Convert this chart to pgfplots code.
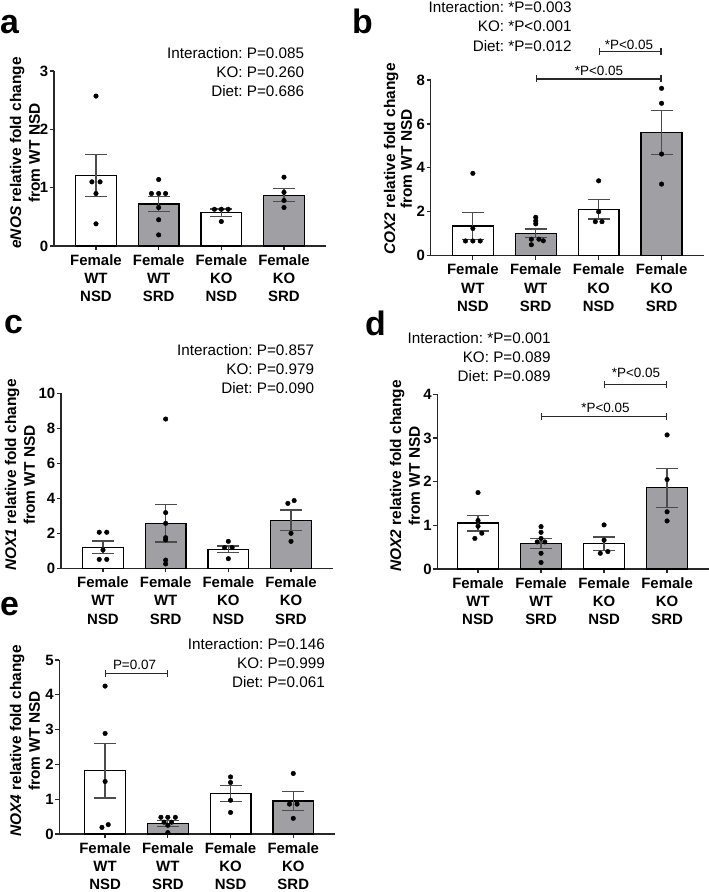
\documentclass[border=0pt]{standalone}
\usepackage{fontspec}
\setmainfont{Liberation Sans}
\usepackage{pgfplots}
\pgfplotsset{compat=1.18}
\usetikzlibrary{arrows.meta}
\definecolor{barg}{RGB}{160,160,164}
\definecolor{axc}{RGB}{40,40,40}
\newcommand\fsT{\fontsize{15}{18.5}\selectfont}
\newcommand\fsA{\fontsize{15.3}{19}\selectfont}
\newcommand\fsS{\fontsize{13.5}{16}\selectfont}
\newcommand\fsL{\fontsize{15.5}{19}\selectfont}
\newcommand\fsP{\fontsize{34}{34}\selectfont}
\frenchspacing
\pgfplotsset{
  panel/.style={
    scale only axis, axis lines=left, axis line style={-, axc, line width=1.3bp},
    xmin=-0.67, xmax=3.67, ymin=0, clip=false,
    xtick={0,1,2,3},
    xticklabels={{Female\\WT\\NSD},{Female\\WT\\SRD},{Female\\KO\\NSD},{Female\\KO\\SRD}},
    tick align=outside, major tick length=4bp, tick style={axc, line width=1.2bp},
    /pgf/number format/assume math mode=true,
    ticklabel style={font=\bfseries\fsT},
    xticklabel style={align=center, inner sep=2bp, yshift=-2bp},
    yticklabel style={inner sep=1.5bp},
  },
  bars/.style={ybar, bar width=0.65, bar shift=0pt, draw=black, line width=1.3bp},
  errs/.style={draw=none, mark=none, forget plot,
     error bars/y dir=both, error bars/y explicit,
     error bars/error bar style={draw=black!70, line width=1.2bp},
     error bars/error mark options={rotate=90, mark size=11bp, draw=black!70, line width=1.2bp}},
  pts/.style={only marks, mark=*, mark size=2.3bp, black},
}
\tikzset{sig/.style={axc, line width=1.2bp, {Bar[width=7bp]}-{Bar[width=7bp]}}}
\begin{document}
\begin{tikzpicture}
\path[use as bounding box] (0,0) rectangle (709bp,-892bp);

% ---------------- panel a
\begin{axis}[panel, at={(54bp,-246bp)}, anchor=south west, width=272bp, height=175bp, ymax=3, ytick={0,1,2,3}]
\addplot[bars, fill=white] coordinates {(0,1.21) (2,0.57)};
\addplot[bars, fill=barg] coordinates {(1,0.72) (3,0.87)};
\addplot[errs] coordinates {(0,1.21) +- (0,0.365) (1,0.72) +- (0,0.125) (2,0.57) +- (0,0.065) (3,0.87) +- (0,0.11)};
\addplot[pts] coordinates {(0,2.57) (-0.065,1.10) (0.065,1.10) (0,0.90) (0,0.38)
  (1,1.14) (0.885,0.90) (1,0.90) (1.11,0.90) (1,0.66) (1,0.45) (1,0.19)
  (1.89,0.63) (2,0.63) (2.11,0.63) (2,0.42)
  (3,1.18) (3,0.92) (3,0.78) (3,0.66)};
\end{axis}

% ---------------- panel b
\begin{axis}[panel, at={(430.7bp,-255.7bp)}, anchor=south west, width=273bp, height=175.7bp, ymax=8, ytick={0,2,4,6,8}]
\addplot[bars, fill=white] coordinates {(0,1.35) (2,2.11)};
\addplot[bars, fill=barg] coordinates {(1,1.02) (3,5.60)};
\addplot[errs] coordinates {(0,1.35) +- (0,0.60) (1,1.02) +- (0,0.195) (2,2.11) +- (0,0.44) (3,5.60) +- (0,1.01)};
\addplot[pts] coordinates {(0,3.75) (0,1.24) (-0.117,0.67) (0,0.67) (0.117,0.67)
  (1,1.75) (1,1.58) (1,1.45) (0.93,0.75) (1.05,0.75) (1.12,0.68) (0.93,0.50)
  (2,3.41) (2,2.0) (1.947,1.55) (2.053,1.55)
  (3,7.62) (3,6.94) (3,4.63) (3,3.26)};
\draw[sig] (axis cs:2,9.29) -- (axis cs:3,9.29);
\draw[sig] (axis cs:1,8.05) -- (axis cs:3,8.05);
\end{axis}

% ---------------- panel c
\begin{axis}[panel, at={(61bp,-568.3bp)}, anchor=south west, width=272bp, height=175bp, ymax=10, ytick={0,2,4,6,8,10}]
\addplot[bars, fill=white] coordinates {(0,1.20) (2,1.09)};
\addplot[bars, fill=barg] coordinates {(1,2.57) (3,2.74)};
\addplot[errs] coordinates {(0,1.20) +- (0,0.36) (1,2.57) +- (0,1.07) (2,1.09) +- (0,0.19) (3,2.74) +- (0,0.59)};
\addplot[pts] coordinates {(-0.06,2.06) (0.06,2.06) (0,1.05) (-0.06,0.51) (0.06,0.51)
  (1,8.53) (1,3.18) (1,2.57) (1,1.75) (1,1.62) (1,0.47) (1,0.25)
  (2,1.54) (1.94,1.18) (2.06,1.18) (2,0.55)
  (2.95,3.71) (3.05,3.87) (3,2.0) (3,1.54)};
\end{axis}

% ---------------- panel d
\begin{axis}[panel, at={(437.3bp,-569bp)}, anchor=south west, width=272bp, height=174.7bp, xmin=-0.646, xmax=3.67, ymax=4, ytick={0,1,2,3,4}]
\addplot[bars, fill=white] coordinates {(0,1.05) (2,0.58)};
\addplot[bars, fill=barg] coordinates {(1,0.58) (3,1.86)};
\addplot[errs] coordinates {(0,1.05) +- (0,0.18) (1,0.58) +- (0,0.11) (2,0.58) +- (0,0.155) (3,1.86) +- (0,0.445)};
\addplot[pts] coordinates {(0,1.75) (0,1.11) (0,0.98) (0.06,0.82) (-0.05,0.70)
  (1,0.97) (1,0.84) (1,0.70) (0.94,0.62) (1.06,0.62) (1,0.36) (1,0.15)
  (2,1.01) (2,0.66) (2.06,0.40) (1.94,0.36)
  (3,3.07) (3,2.05) (3,1.31) (3,1.10)};
\draw[sig] (axis cs:2,4.23) -- (axis cs:3,4.23);
\draw[sig] (axis cs:1,3.49) -- (axis cs:3,3.49);
\end{axis}

% ---------------- panel e
\begin{axis}[panel, at={(59.3bp,-834bp)}, anchor=south west, width=276bp, height=174bp, xmin=-0.73, xmax=3.67, ymax=5, ytick={0,1,2,3,4,5}]
\addplot[bars, fill=white] coordinates {(0,1.82) (2,1.17)};
\addplot[bars, fill=barg] coordinates {(1,0.30) (3,0.95)};
\addplot[errs] coordinates {(0,1.82) +- (0,0.785) (1,0.30) +- (0,0.085) (2,1.17) +- (0,0.235) (3,0.95) +- (0,0.275)};
\addplot[pts] coordinates {(0,4.25) (0,2.89) (0,1.51) (0.05,0.27) (-0.05,0.19)
  (0.89,0.48) (1,0.48) (1.12,0.48) (0.94,0.34) (1.06,0.34) (1,0.25) (1,0.04)
  (2,1.64) (2,1.48) (2,0.97) (2,0.62)
  (3,1.74) (2.94,0.86) (3.06,0.86) (3,0.45)};
\draw[sig] (axis cs:0,4.62) -- (axis cs:1,4.62);
\end{axis}

% ---------------- panel letters
\begin{scope}[every node/.style={anchor=base west, font=\bfseries\fsP, inner sep=0pt}]
\node at (0bp,-33bp) {a};
\node at (352bp,-33bp) {b};
\node at (4bp,-333bp) {c};
\node at (365bp,-335bp) {d};
\node at (0bp,-615bp) {e};
\end{scope}

% ---------------- y labels
\begin{scope}[every node/.style={rotate=90, align=center, font=\bfseries\fsL, inner sep=0pt}]
\node at (25bp,-153bp) {\textit{eNOS} relative fold change\\from WT NSD};
\node[font=\bfseries\fontsize{15.5}{17}\selectfont] at (398bp,-159bp) {\textit{COX2} relative fold change\\from WT NSD};
\node at (20bp,-475bp) {\textit{NOX1} relative fold change\\from WT NSD};
\node at (405bp,-476bp) {\textit{NOX2} relative fold change\\from WT NSD};
\node at (25bp,-741bp) {\textit{NOX4} relative fold change\\from WT NSD};
\end{scope}

% ---------------- statistics text
\begin{scope}[every node/.style={anchor=base east, font=\fsA, inner sep=0pt}]
\node at (304.3bp,-58.7bp) {Interaction: P=0.085};
\node at (304.3bp,-77.7bp) {KO: P=0.260};
\node at (304.3bp,-96.5bp) {Diet: P=0.686};
\node at (571.7bp,-12.7bp) {Interaction: *P=0.003};
\node at (571.7bp,-31.7bp) {KO: *P<0.001};
\node at (571.7bp,-51.7bp) {Diet: *P=0.012};
\node at (314.3bp,-355bp) {Interaction: P=0.857};
\node at (314.3bp,-374bp) {KO: P=0.979};
\node at (314.3bp,-393.3bp) {Diet: P=0.090};
\node at (550.7bp,-343.3bp) {Interaction: *P=0.001};
\node at (550.7bp,-362.7bp) {KO: P=0.089};
\node at (550.7bp,-381.7bp) {Diet: P=0.089};
\node at (325bp,-649.3bp) {Interaction: P=0.146};
\node at (325bp,-668.3bp) {KO: P=0.999};
\node at (325bp,-687.3bp) {Diet: P=0.061};
\end{scope}
\begin{scope}[every node/.style={anchor=base, font=\fsS, inner sep=0pt}]
\node at (629bp,-49bp) {*P<0.05};
\node at (599bp,-75.5bp) {*P<0.05};
\node at (636bp,-377bp) {*P<0.05};
\node at (605.5bp,-412.5bp) {*P<0.05};
\node at (134.5bp,-669bp) {P=0.07};
\end{scope}
\end{tikzpicture}
\end{document}
